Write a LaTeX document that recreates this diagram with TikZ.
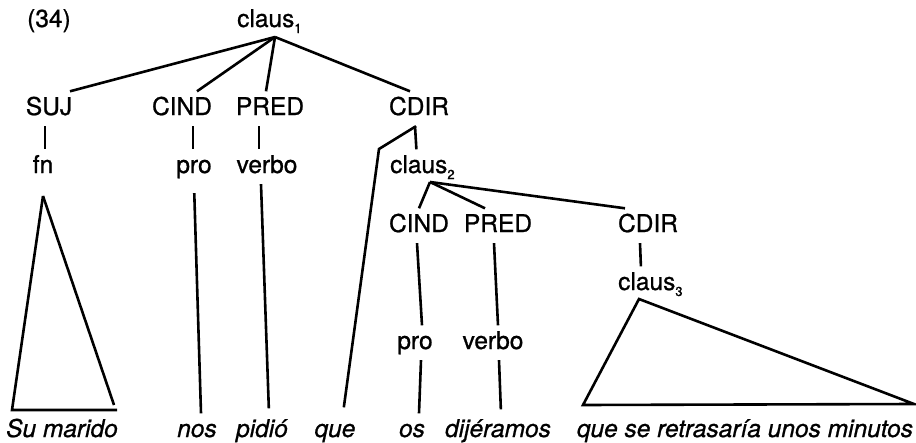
\documentclass[tikz,border=0pt]{standalone}
\usepackage{fontspec}
\setmainfont{TeX Gyre Heros}[UprightFeatures={FakeBold=0.9}, ItalicFeatures={FakeBold=0.9}]
\newcommand{\sbx}[1]{\raisebox{-6pt}{\fontsize{13}{13}\selectfont #1}}
\begin{document}
\begin{tikzpicture}[x=1pt,y=-1pt,
  lbl/.style={anchor=base, inner xsep=0pt, inner ysep=6pt, text height=17.5pt, text depth=5pt, font=\fontsize{24.5}{28}\selectfont},
  wd/.style={lbl, font=\fontsize{24.5}{28}\selectfont\itshape},
  ln/.style={line width=2.6pt, line join=miter}]
\useasboundingbox (0,0) rectangle (916,442);
% labels
\node[lbl, anchor=base west] (n34) at (27,27) {(34)};
\node[lbl, anchor=base west] (claus1) at (237,27) {claus\sbx{1}};
\coordinate (a1) at (275,37);
\node[lbl] (SUJ) at (49,115) {SUJ};
\node[lbl] (CIND1) at (182,115) {CIND};
\node[lbl] (PRED1) at (270,115) {PRED};
\node[lbl] (CDIR1) at (419,115) {CDIR};
\node[lbl] (fn) at (43,173) {fn};
\node[lbl] (pro1) at (194,173) {pro};
\node[lbl] (verbo1) at (267,173) {verbo};
\node[lbl, anchor=base west] (claus2) at (390,173) {claus\sbx{2}};
\coordinate (a2) at (430,182);
\coordinate (bend) at (379,149);
\node[lbl] (CIND2) at (419,232) {CIND};
\node[lbl] (PRED2) at (498,232) {PRED};
\node[lbl] (CDIR2) at (648,232) {CDIR};
\node[lbl, anchor=base west] (claus3) at (618,290) {claus\sbx{3}};
\node[lbl] (pro2) at (415,349) {pro};
\node[lbl] (verbo2) at (493,349) {verbo};
% words
\node[wd] (su) at (62,437) {Su marido};
\node[wd] (nos) at (197,437) {nos};
\node[wd] (pidio) at (262,437) {pidió};
\node[wd] (que) at (335,437) {que};
\node[wd] (os) at (412,437) {os};
\node[wd] (dij) at (498,437) {dijéramos};
\node[wd] (rest) at (745,437) {que se retrasaría unos minutos};
% connectors level 1
\draw[ln] (a1) -- ([xshift=21]SUJ.north);
\draw[ln] (a1) -- ([xshift=15]CIND1.north);
\draw[ln] (a1) -- ([xshift=-4]PRED1.north);
\draw[ln] (a1) -- ([xshift=-9]CDIR1.north);
\draw[ln] ([xshift=-4]SUJ.south) -- ([xshift=2]fn.north);
\draw[ln] ([xshift=11]CIND1.south) -- ([xshift=-1]pro1.north);
\draw[ln] ([xshift=-11]PRED1.south) -- ([xshift=-8]verbo1.north);
\draw[ln] ([xshift=-4]CDIR1.south) -- ([xshift=-6]claus2.north);
\draw[ln, shorten >=6pt] ([xshift=-3]CDIR1.south) -- (bend) -- ([xshift=8]que.north);
\draw[ln, shorten <=9pt] (pro1.south) -- ([xshift=4]nos.north);
\draw[ln, shorten >=5pt] ([xshift=-6]verbo1.south) -- ([xshift=7]pidio.north);
% triangle under fn
\draw[ln] (43,196) -- (12,410) -- (117,410);
\draw[ln] (43,196) -- (114,405);
% level 2
\draw[ln] (a2) -- (CIND2.north);
\draw[ln] (a2) -- ([xshift=-13]PRED2.north);
\draw[ln] (a2) -- ([xshift=-23]CDIR2.north);
\draw[ln] ([xshift=-2]CIND2.south) -- ([xshift=7]pro2.north);
\draw[ln] ([xshift=6]pro2.south) -- ([xshift=7]os.north);
\draw[ln] ([xshift=-4]PRED2.south) -- ([xshift=5]verbo2.north);
\draw[ln, shorten >=4pt] ([xshift=6]verbo2.south) -- ([xshift=3]dij.north);
\draw[ln] ([xshift=-8]CDIR2.south) -- ([xshift=-9.5]claus3.north);
% triangle under claus3
\draw[ln] (639,299) -- (583,405) -- (914,404) -- cycle;
\end{tikzpicture}
\end{document}
